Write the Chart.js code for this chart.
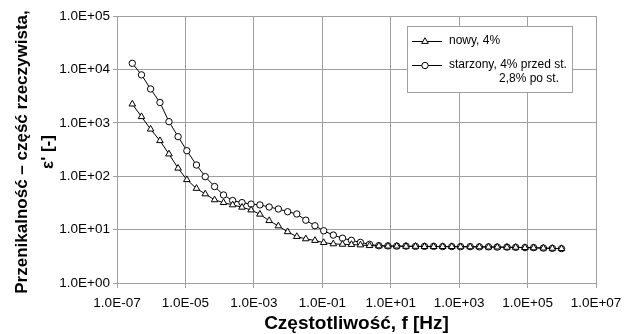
<!DOCTYPE html>
<html>
<head>
<meta charset="utf-8">
<script src="https://cdn.jsdelivr.net/npm/chart.js@4"></script>
<style>
  html, body { margin: 0; padding: 0; background: #fff; }
  canvas { display: block; }
</style>
</head>
<body>
<canvas id="wykres" width="631" height="334"></canvas>
<script>
// Częstotliwości pomiarowe [Hz]
const freq = [2.8e-7, 5.2e-7, 9.6e-7, 1.8e-6, 3.3e-6, 6.1e-6, 1.1e-5, 2.1e-5, 3.8e-5, 7.1e-5,
    1.3e-4, 2.4e-4, 4.5e-4, 8.3e-4, 1.5e-3, 2.8e-3, 5.2e-3, 9.7e-3, 1.8e-2, 3.3e-2,
    6.1e-2, 0.11, 0.21, 0.39, 0.71, 1.3, 2.4, 4.5, 8.3, 15,
    28, 53, 97, 180, 330, 610, 1100, 2100, 3900, 7200,
    1.3e4, 2.5e4, 4.5e4, 8.4e4, 1.5e5, 2.9e5, 5.3e5, 9.8e5];

// ε' - próbka nowa
const nowy = [2240, 1300, 760, 462, 260, 141, 86, 59, 46.5, 36,
    32, 29, 26.2, 23.3, 19.4, 14.7, 11.7, 9.1, 7.4, 6.7,
    6.25, 5.7, 5.4, 5.3, 5.25, 5.15, 5.0, 4.95, 4.9, 4.9,
    4.85, 4.85, 4.8, 4.8, 4.8, 4.8, 4.75, 4.75, 4.75, 4.7,
    4.7, 4.65, 4.65, 4.6, 4.55, 4.5, 4.45, 4.4];

// ε' - próbka starzona
const starzony = [13000, 7900, 4300, 2400, 1050, 550, 300, 162, 98, 64,
    44.5, 35, 32, 30, 29, 26.5, 24.3, 21.6, 19.6, 15,
    11.8, 9.5, 7.9, 6.9, 6.3, 5.75, 5.3, 5.0, 4.95, 4.9,
    4.9, 4.85, 4.85, 4.85, 4.8, 4.8, 4.8, 4.8, 4.75, 4.75,
    4.7, 4.7, 4.65, 4.6, 4.6, 4.5, 4.45, 4.4];

const xTicks = [1e-7, 1e-5, 1e-3, 1e-1, 1e1, 1e3, 1e5, 1e7];
const yTicks = [1, 10, 100, 1000, 1e4, 1e5];

const FONT = "'Liberation Sans', Arial, sans-serif";
const SZARY = '#a0a0a0';

// zapis typu 1.0E+05
function formatExp(v) {
    const e = Math.round(Math.log10(v));
    return '1.0E' + (e < 0 ? '-' : '+') + String(Math.abs(e)).padStart(2, '0');
}

// tytuły osi i legenda rysowane ręcznie
const opisy = {
    id: 'opisy',
    afterDraw(chart) {
        const ctx = chart.ctx;
        const a = chart.chartArea;
        ctx.save();
        ctx.fillStyle = '#000';

        // oś X
        ctx.font = 'bold 19px ' + FONT;
        ctx.textAlign = 'center';
        ctx.textBaseline = 'middle';
        ctx.fillText('Częstotliwość, f [Hz]', (a.left + a.right) / 2, 324);

        // oś Y
        ctx.save();
        ctx.translate(22, 152);
        ctx.rotate(-Math.PI / 2);
        ctx.font = 'bold 17px ' + FONT;
        ctx.fillText('Przenikalność – część rzeczywista,', 0, 0);
        ctx.fillText("ε' [-]", 0, 26);
        ctx.restore();

        // legenda
        const L = a.right - 189, T = a.top + 10;
        ctx.fillStyle = '#fff';
        ctx.fillRect(L, T, 165, 66);
        ctx.strokeStyle = SZARY;
        ctx.lineWidth = 1;
        ctx.strokeRect(L + 0.5, T + 0.5, 165, 66);

        const wpisy = [
            { ds: chart.data.datasets[0], y: T + 15 },
            { ds: chart.data.datasets[1], y: T + 39 }
        ];
        wpisy.forEach(w => {
            ctx.strokeStyle = '#000';
            ctx.beginPath();
            ctx.moveTo(L + 5, w.y + 0.5);
            ctx.lineTo(L + 35, w.y + 0.5);
            ctx.stroke();
            ctx.fillStyle = '#fff';
            Chart.helpers.drawPoint(ctx, {
                pointStyle: w.ds.pointStyle,
                radius: w.ds.pointRadius,
                borderWidth: 1,
                rotation: 0
            }, L + 18, w.y + 0.5);
        });

        ctx.fillStyle = '#000';
        ctx.font = '12px ' + FONT;
        ctx.textAlign = 'left';
        ctx.fillText('nowy, 4%', L + 42, T + 15);
        ctx.fillText('starzony, 4% przed st.', L + 42, T + 39);
        ctx.fillText('2,8% po st.', L + 92, T + 53);
        ctx.restore();
    }
};

new Chart(document.getElementById('wykres'), {
    type: 'line',
    data: {
        datasets: [{
            label: 'nowy, 4%',
            data: freq.map((f, i) => ({ x: f, y: nowy[i] })),
            borderColor: '#000',
            borderWidth: 1,
            pointStyle: 'triangle',
            pointRadius: 3.8,
            pointBackgroundColor: '#fff',
            pointBorderColor: '#000',
            pointBorderWidth: 1,
            tension: 0
        }, {
            label: 'starzony, 4% przed st. 2,8% po st.',
            data: freq.map((f, i) => ({ x: f, y: starzony[i] })),
            borderColor: '#000',
            borderWidth: 1,
            pointStyle: 'circle',
            pointRadius: 3.2,
            pointBackgroundColor: '#fff',
            pointBorderColor: '#000',
            pointBorderWidth: 1,
            tension: 0
        }]
    },
    options: {
        responsive: false,
        animation: false,
        devicePixelRatio: 1,
        layout: { padding: { top: 16, right: 35, left: 0, bottom: 0 } },
        plugins: {
            legend: { display: false },
            tooltip: { enabled: false }
        },
        scales: {
            x: {
                type: 'logarithmic',
                min: 1e-7,
                max: 1e7,
                afterBuildTicks: s => { s.ticks = xTicks.map(v => ({ value: v })); },
                afterFit: s => { s.height = 51; },
                grid: { color: SZARY, lineWidth: 1, tickLength: 5 },
                border: { color: SZARY },
                ticks: {
                    callback: formatExp,
                    font: { family: FONT, size: 13.5 },
                    color: '#000',
                    padding: 7,
                    maxRotation: 0,
                    autoSkip: false
                }
            },
            y: {
                type: 'logarithmic',
                min: 1,
                max: 1e5,
                afterBuildTicks: s => { s.ticks = yTicks.map(v => ({ value: v })); },
                afterFit: s => { s.width = 117; },
                grid: { color: SZARY, lineWidth: 1, tickLength: 4 },
                border: { color: SZARY },
                ticks: {
                    callback: formatExp,
                    font: { family: FONT, size: 13.5 },
                    color: '#000',
                    padding: 3,
                    autoSkip: false
                }
            }
        }
    },
    plugins: [opisy]
});
</script>
</body>
</html>
